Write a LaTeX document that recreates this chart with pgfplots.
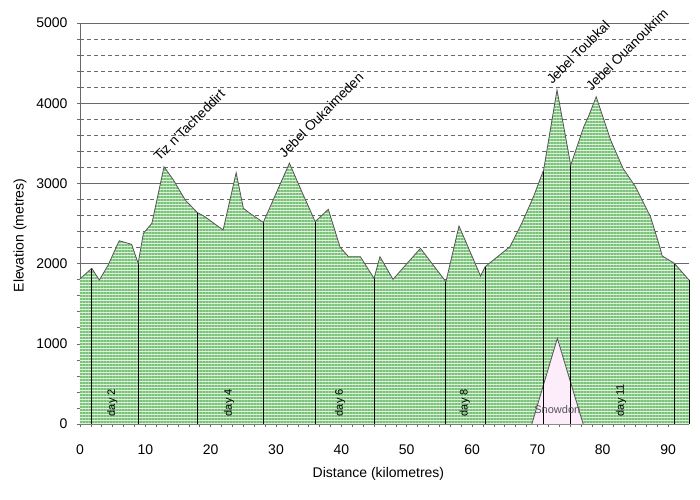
\documentclass[border=0pt]{standalone}
\usepackage{fontspec}
\setmainfont{Liberation Sans}
\usepackage{pgfplots}
\pgfplotsset{compat=1.18}
\usetikzlibrary{patterns.meta}
\definecolor{stripe}{RGB}{120,195,120}
\definecolor{basec}{RGB}{225,240,223}
\definecolor{snow}{RGB}{253,236,250}
\definecolor{gridc}{RGB}{105,105,105}
\definecolor{outline}{RGB}{85,85,85}
\begin{document}
\begin{tikzpicture}
\begin{axis}[
  scale only axis, width=609bp, height=401bp,
  xmin=0, xmax=93.2, ymin=0, ymax=5000,
  axis x line*=bottom, axis y line*=left,
  axis line style={gridc, line width=0.8bp},
  xtick={0,10,...,90}, ytick={0,1000,...,5000},
  minor x tick num=5, minor y tick num=4,
  tick align=outside, major tick length=3bp, minor tick length=3bp,
  tick style={gridc, line width=0.6bp},
  ymajorgrids, yminorgrids,
  major grid style={gridc, line width=0.9bp},
  minor grid style={gridc, line width=0.8bp, dash pattern=on 4bp off 3bp},
  /pgf/number format/assume math mode=true,
  /pgf/number format/1000 sep={},
  ticklabel style={font=\fontsize{14bp}{16bp}\selectfont},
  xticklabel style={yshift=-14bp},
  yticklabel style={xshift=-6bp},
  xlabel={Distance (kilometres)}, ylabel={Elevation (metres)},
  every axis x label/.style={at={(rel axis cs:0.49,0)}, yshift=-50bp, anchor=center, font=\fontsize{14bp}{16bp}\selectfont},
  every axis y label/.style={at={(rel axis cs:0,0.47)}, xshift=-60bp, rotate=90, anchor=center, font=\fontsize{14bp}{16bp}\selectfont},
  clip=false,
]
\addplot[draw=none, fill=basec, postaction={pattern={Lines[angle=0,distance=3bp,line width=1.4bp]}, pattern color=stripe}] coordinates {
(0,1810)(1.8,1941)(2.96,1795)(4.3,1980)(6.0,2285)(7.9,2240)(8.9,2004)(9.7,2378)(11.0,2502)(12.86,3208)
(14.3,3042)(16.1,2793)(17.9,2640)(19.1,2585)(21.9,2419)(23.9,3133)(25.0,2690)(26.0,2627)(28.05,2515)(32.05,3252)
(33.95,2896)(36.0,2523)(38.0,2677)(39.8,2205)(41.1,2086)(42.9,2086)(45.0,1816)(45.9,2086)(47.9,1804)(52.1,2190)
(56.0,1774)(58.0,2469)(61.3,1845)(62.0,1961)(65.8,2211)(67.6,2502)(69.4,2834)(70.95,3167)(73.0,4165)(75.1,3229)
(77.1,3707)(77.8,3832)(79.0,4081)(81.2,3541)(83.1,3188)(85.0,2959)(87.3,2585)(88.8,2190)(89.1,2095)(90.95,2004)(93.2,1795)
} \closedcycle;
\addplot[draw=outline, line width=0.8bp, fill=snow] coordinates {(69.15,0)(73.05,1068)(77.0,0)};
\addplot[ycomb, black, line width=0.9bp, no marks] coordinates {
(1.8,1941)(8.9,2004)(17.9,2640)(28.05,2515)(36.0,2523)(45.0,1816)(56.0,1774)(62.0,1961)(70.95,3167)(75.1,3229)(90.95,2004)(93.2,1795)};
\addplot[draw=outline, line width=0.8bp, no marks] coordinates {
(0,1810)(1.8,1941)(2.96,1795)(4.3,1980)(6.0,2285)(7.9,2240)(8.9,2004)(9.7,2378)(11.0,2502)(12.86,3208)
(14.3,3042)(16.1,2793)(17.9,2640)(19.1,2585)(21.9,2419)(23.9,3133)(25.0,2690)(26.0,2627)(28.05,2515)(32.05,3252)
(33.95,2896)(36.0,2523)(38.0,2677)(39.8,2205)(41.1,2086)(42.9,2086)(45.0,1816)(45.9,2086)(47.9,1804)(52.1,2190)
(56.0,1774)(58.0,2469)(61.3,1845)(62.0,1961)(65.8,2211)(67.6,2502)(69.4,2834)(70.95,3167)(73.0,4165)(75.1,3229)
(77.1,3707)(77.8,3832)(79.0,4081)(81.2,3541)(83.1,3188)(85.0,2959)(87.3,2585)(88.8,2190)(89.1,2095)(90.95,2004)(93.2,1795)};
\foreach \x/\t in {4.95/day 2, 22.8/day 4, 39.8/day 6, 58.9/day 8, 82.8/day 11}{
  \edef\tmp{\noexpand\node[font=\noexpand\fontsize{11bp}{13bp}\noexpand\selectfont, rotate=90, anchor=west, inner sep=0pt] at (axis cs:\x,95) {\t};}
  \tmp
}
\node[font=\fontsize{11bp}{13bp}\selectfont, text=outline, inner sep=0pt] at (axis cs:73.05,178) {Snowdon};
\node[font=\fontsize{13.5bp}{15bp}\selectfont, rotate=45, anchor=south west, inner xsep=0pt, inner ysep=6.5bp] at (axis cs:12.86,3208) {Tiz n'Tacheddirt};
\node[font=\fontsize{13.5bp}{15bp}\selectfont, rotate=45, anchor=south west, inner xsep=0pt, inner ysep=6.5bp] at (axis cs:32.05,3252) {Jebel Oukaimeden};
\node[font=\fontsize{13.5bp}{15bp}\selectfont, rotate=45, anchor=south west, inner xsep=0pt, inner ysep=6.5bp] at (axis cs:73.0,4165) {Jebel Toubkal};
\node[font=\fontsize{13.5bp}{15bp}\selectfont, rotate=45, anchor=south west, inner xsep=0pt, inner ysep=6.5bp] at (axis cs:79.0,4081) {Jebel Ouanoukrim};
\path (rel axis cs:0,0) ++(-80bp,-76bp) rectangle ++(700bp,500bp);
\end{axis}
\end{tikzpicture}
\end{document}
